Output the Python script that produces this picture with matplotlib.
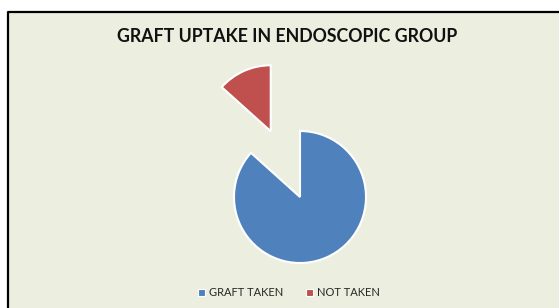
import matplotlib.pyplot as plt
from matplotlib.patches import Patch, Rectangle

labels = ['GRAFT TAKEN', 'NOT TAKEN']
values = [26, 4]
colors = ['#4F81BD', '#C0504D']

W, H = 559, 308
R = 66
explode = [0, 1.09 * R]  # pie offsets are in data units

fig = plt.figure(figsize=(W / 100, H / 100), dpi=100, facecolor='white')
ax = fig.add_axes([0, 0, 1, 1])

# chart area background with left/top border
ax.add_patch(Rectangle((8, 0), W, H - 12, facecolor='#ECEFDF', edgecolor='none', zorder=0))
ax.plot([8, 8, W], [0, H - 12, H - 12], color='black', lw=1.6, zorder=1)

ax.pie(values, colors=colors, explode=explode, startangle=90, counterclock=False,
       center=(300, H - 197), radius=R,
       wedgeprops=dict(edgecolor='white', linewidth=1.5))
ax.set_xlim(0, W)
ax.set_ylim(0, H)
ax.set_aspect('equal')
ax.axis('off')

fig.text(287 / W, 1 - 36 / H, 'GRAFT UPTAKE IN ENDOSCOPIC GROUP', ha='center', va='center',
         fontsize=12.8, fontweight='bold', family='Lato', color='#111111')

handles = [Patch(facecolor=c, edgecolor='white', linewidth=0.8) for c in colors]
fig.legend(handles, labels, loc='center', bbox_to_anchor=(289 / W, 1 - 293 / H), ncol=2,
           frameon=False, prop=dict(family='Lato', size=8), handlelength=0.65, handleheight=0.65,
           handletextpad=0.4, columnspacing=2.0, labelcolor='#262626')

fig.savefig('out.png', dpi=100, facecolor='white')
